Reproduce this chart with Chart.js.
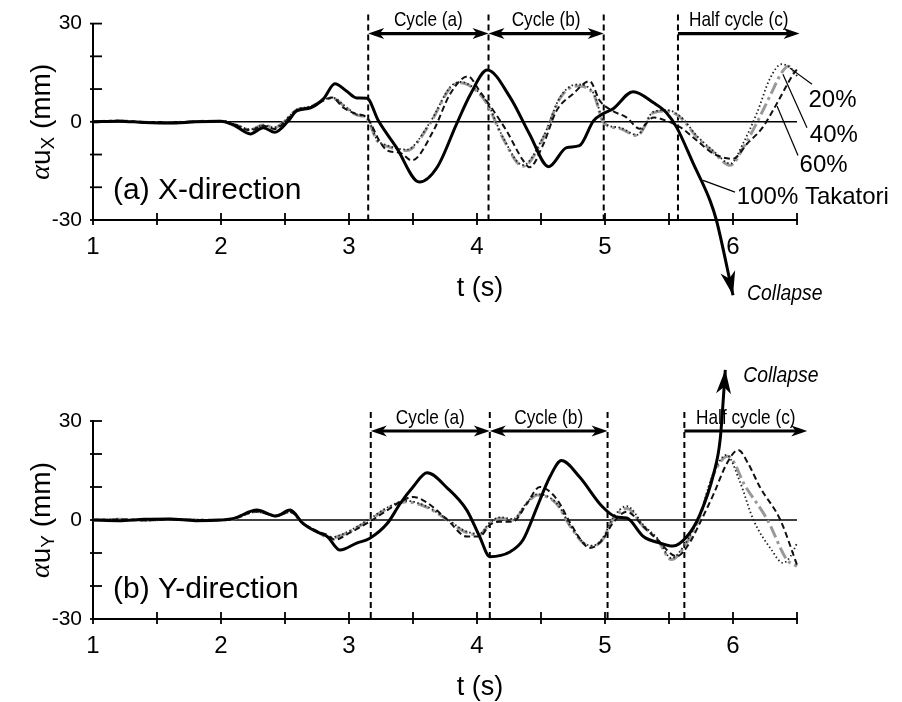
<!DOCTYPE html>
<html>
<head>
<meta charset="utf-8">
<script src="https://cdn.jsdelivr.net/npm/chart.js@4.4.0/dist/chart.umd.min.js"></script>
<style>
html, body { margin: 0; padding: 0; background: #fff; }
#wrap { position: relative; width: 902px; height: 702px; }
#cx { position: absolute; left: 0; top: 0; }
#cy { position: absolute; left: 0; top: 350px; }
</style>
</head>
<body>
<div id="wrap">
  <canvas id="cx" width="902" height="350"></canvas>
  <canvas id="cy" width="902" height="352"></canvas>
</div>
<script>
// ---- data: time t (s) and alpha*u (mm) ----
// (a) X-direction
const tX100 = [1.0,1.2,1.4,1.6,1.8,2.0,2.1,2.23,2.33,2.42,2.52,2.59,2.7,2.8,2.89,2.98,3.06,3.14,3.23,3.37,3.55,3.69,3.84,3.95,4.08,4.26,4.41,4.56,4.7,4.8,4.91,4.98,5.06,5.22,5.38,5.48,5.56,5.69,5.82,5.87,6.0];
const uX100 = [0,0.2,-0.2,-0.4,0,0.2,-1,-3.7,-1.8,-3.2,0,3.3,4.3,7,11.6,9.4,7.3,7.2,0.3,-7.8,-18.4,-13.8,-0.7,8.5,15.8,7.4,-3.7,-13.7,-7.9,-7.3,0.3,2.4,3.9,9.2,5.8,2.8,-1.7,-12.8,-24,-30,-53];
const tX60 = [1.0,1.2,1.4,1.6,1.8,2.0,2.1,2.23,2.33,2.42,2.5,2.59,2.7,2.8,2.87,2.95,3.05,3.14,3.24,3.3,3.4,3.49,3.66,3.79,3.93,4.02,4.13,4.23,4.36,4.41,4.52,4.62,4.75,4.88,4.96,5.06,5.17,5.27,5.38,5.48,5.59,5.72,5.85,6.0,6.11,6.23,6.34,6.47,6.5];
const uX60 = [0,0.3,-0.2,-0.3,0.1,0.2,-0.8,-2.6,-1.2,-2.2,0,3.5,4.5,6.5,7.4,4.5,2.5,1.3,-6,-8.8,-9.5,-11.8,-2.7,8.5,13.9,9.4,3.3,-2.7,-11.8,-13.9,-6.7,3.3,8.5,12.4,6.4,3.3,1.3,-2.1,1.3,0.3,-1.7,-5.8,-9.8,-11.3,-6.7,-1.8,5.4,14.5,16];
const tX40 = [1.0,1.2,1.4,1.6,1.8,2.0,2.1,2.23,2.33,2.42,2.5,2.59,2.7,2.8,2.87,2.98,3.06,3.14,3.22,3.3,3.45,3.63,3.79,3.87,3.97,4.08,4.2,4.36,4.52,4.65,4.78,4.91,4.98,5.02,5.12,5.25,5.38,5.48,5.59,5.72,5.85,5.98,6.08,6.19,6.29,6.38,6.43,6.5];
const uX40 = [0,0.3,-0.1,-0.3,0.1,0.2,-0.7,-2.4,-1,-1.8,0.3,3.6,4.6,6.6,7.2,4.2,2.1,1,-5.8,-7.5,-8.8,-0.7,10.3,11.9,10.3,5.4,-4.8,-13.6,-4.8,7.3,10.9,8.5,0.3,-1.2,-2.1,-4.2,2.8,3.3,1.3,-4.8,-9.4,-13.3,-7.9,0,8,15,17,14];
const tX20 = [1.0,1.2,1.4,1.6,1.8,2.0,2.1,2.23,2.33,2.42,2.5,2.59,2.7,2.8,2.87,2.98,3.06,3.14,3.22,3.3,3.45,3.63,3.79,3.87,3.97,4.08,4.2,4.36,4.52,4.65,4.78,4.91,4.98,5.02,5.12,5.25,5.38,5.48,5.59,5.72,5.85,5.98,6.08,6.19,6.29,6.38,6.45,6.5];
const uX20 = [0,0.2,-0.2,-0.3,0,0.3,-0.6,-2.3,-1.1,-1.7,0.4,3.7,4.7,6.7,7.4,4.4,2.2,1.2,-5.5,-7.2,-8.5,-0.4,10.6,12.2,10.5,5.8,-4.5,-13.2,-4.4,7.6,11.4,8.8,0.8,-1,-1.8,-4,3.1,3.6,1.6,-4.4,-9,-12.8,-6.5,3,13.3,17.6,16.5,14];

// (b) Y-direction
const tY100 = [1.0,1.2,1.4,1.6,1.8,2.0,2.1,2.28,2.43,2.54,2.64,2.75,2.83,2.93,3.06,3.16,3.3,3.4,3.5,3.61,3.77,3.92,4.02,4.1,4.26,4.36,4.47,4.57,4.66,4.8,4.98,5.09,5.17,5.3,5.43,5.53,5.64,5.74,5.85,5.9,5.94];
const uY100 = [0,-0.2,0.2,0.3,-0.2,0,0.5,3,1.2,3,-1,-3.6,-5,-9.1,-7,-5.6,-1,5,10,14.3,9.6,3,-5,-11.1,-9.6,-6,4,13.1,18,13.1,4,0.9,0.6,-5,-7,-7.9,-5,1.5,14.2,24.5,45.5];
const tY60 = [1.0,1.2,1.4,1.6,1.8,2.0,2.1,2.28,2.43,2.54,2.64,2.75,2.83,2.89,3.0,3.16,3.3,3.4,3.5,3.6,3.77,3.92,4.02,4.1,4.18,4.28,4.39,4.49,4.62,4.73,4.83,4.88,4.98,5.06,5.17,5.3,5.41,5.56,5.66,5.74,5.85,5.95,6.04,6.12,6.21,6.37,6.5];
const uY60 = [0,0.2,-0.1,0.2,0,0,0.5,2.6,1.2,2.5,-1,-3.4,-4.5,-6,-4,-0.5,3,5.5,7,5.5,0,-5,-5,-1.5,-0.5,-0.5,5,10,6.5,-1,-7,-8.5,-6,-1,2.5,-2,-6,-11,-7,-1,8,17,21.2,17,10,0,-13.6];
const tY40 = [1.0,1.2,1.4,1.6,1.8,2.0,2.1,2.28,2.43,2.54,2.64,2.75,2.85,2.95,3.16,3.3,3.45,3.6,3.77,3.9,4.02,4.1,4.18,4.28,4.39,4.47,4.62,4.73,4.83,4.9,4.98,5.06,5.17,5.3,5.41,5.52,5.62,5.74,5.85,5.96,6.1,6.27,6.42,6.5];
const uY40 = [0,0.2,-0.1,0.2,0,0,0.4,2.6,1.3,2.5,-1,-3.5,-5.5,-4.5,0,3.5,5.5,4,0,-3.5,-4.5,-1,0.5,0,5,7.6,5,-2,-7,-8,-6,0,3.5,-2,-6,-12,-8,1,14,19.3,10,0,-12,-14];
const tY20 = [1.0,1.2,1.4,1.6,1.8,2.0,2.1,2.28,2.43,2.54,2.64,2.75,2.85,2.95,3.16,3.3,3.45,3.6,3.77,3.9,4.02,4.1,4.18,4.28,4.39,4.47,4.62,4.73,4.83,4.9,4.98,5.06,5.17,5.3,5.41,5.52,5.62,5.74,5.85,5.95,6.05,6.16,6.3,6.39,6.45,6.5];
const uY20 = [0,0.1,-0.1,0.2,0.1,0,0.4,2.5,1.3,2.4,-1,-3.4,-5.3,-4.3,0.3,3.8,5.8,4.2,0.2,-3.2,-4.2,-0.8,0.8,0.3,5.3,7.8,5.2,-1.8,-6.8,-7.8,-5.6,0.5,4.2,-1.5,-5.6,-11.6,-7.6,1.5,14.5,19.7,12,0,-9,-13,-11,-7];

// cycle boundaries (s)
const cycleX = [3.15, 4.09, 4.99, 5.57];
const cycleY = [3.17, 4.10, 5.02, 5.62];
const cycleNames = ['Cycle (a)', 'Cycle (b)', 'Half cycle (c)'];

// tick labels
const xTickLabels = [1, 2, 3, 4, 5, 6];
const yTickLabels = [-30, 0, 30];

const SANS = '"Liberation Sans", Arial, sans-serif';

function pts(t, u) { return t.map((v, i) => ({x: v, y: u[i]})); }

function series(t20, u20, t40, u40, t60, u60, t100, u100) {
    return [{
        label: '100% Takatori', data: pts(t100, u100), borderColor: '#000', borderWidth: 3, order: 1
    }, {
        label: '60%', data: pts(t60, u60), borderColor: '#111', borderWidth: 2, borderDash: [6, 3.5], order: 2
    }, {
        label: '20%', data: pts(t20, u20), borderColor: '#222', borderWidth: 1.8, borderDash: [1.5, 2.5], order: 3
    }, {
        label: '40%', data: pts(t40, u40), borderColor: '#999', borderWidth: 3, borderDash: [12, 4, 3, 4], order: 4
    }];
}

function narrow(ctx, str, x, y, font, sx, align) {
    ctx.save();
    ctx.font = font;
    const w = ctx.measureText(str).width * sx;
    const x0 = align === 'center' ? x - w / 2 : (align === 'right' ? x - w : x);
    ctx.translate(x0, y);
    ctx.scale(sx, 1);
    ctx.textAlign = 'left';
    ctx.textBaseline = 'middle';
    ctx.fillText(str, 0, 0);
    ctx.restore();
}

function head(ctx, x, y, ang, len, half) {
    ctx.save();
    ctx.translate(x, y);
    ctx.rotate(ang);
    ctx.beginPath();
    ctx.moveTo(0, 0);
    ctx.lineTo(-len, -half);
    ctx.lineTo(-len * 0.72, 0);
    ctx.lineTo(-len, half);
    ctx.closePath();
    ctx.fill();
    ctx.restore();
}

function panel(p) {
    return {
        id: 'panel',
        beforeDatasetsDraw(chart) {
            const {ctx, chartArea: a, scales: {x, y}} = chart;
            ctx.save();
            ctx.strokeStyle = '#000';
            ctx.lineWidth = 1.6;
            const y0 = y.getPixelForValue(0);
            ctx.beginPath(); ctx.moveTo(a.left, y0); ctx.lineTo(a.right, y0); ctx.stroke();
            ctx.lineWidth = 2;
            ctx.setLineDash([6, 4]);
            p.cycles.forEach(t => {
                const px = x.getPixelForValue(t);
                ctx.beginPath(); ctx.moveTo(px, a.top - 9); ctx.lineTo(px, a.bottom); ctx.stroke();
            });
            ctx.restore();
        },
        afterDraw(chart) {
            const {ctx, chartArea: a, scales: {x, y}} = chart;
            ctx.save();
            ctx.strokeStyle = '#000';
            ctx.fillStyle = '#000';
            ctx.lineWidth = 1.8;
            // ticks crossing the axes
            x.ticks.forEach(t => {
                const px = x.getPixelForValue(t.value);
                ctx.beginPath(); ctx.moveTo(px, a.bottom - 7); ctx.lineTo(px, a.bottom + 5); ctx.stroke();
            });
            y.ticks.forEach(t => {
                const py = y.getPixelForValue(t.value);
                ctx.beginPath(); ctx.moveTo(a.left - 3, py); ctx.lineTo(a.left + 9, py); ctx.stroke();
            });
            // x tick labels
            ctx.font = '24px ' + SANS;
            ctx.textAlign = 'center';
            ctx.textBaseline = 'middle';
            xTickLabels.forEach(v => ctx.fillText(String(v), x.getPixelForValue(v), a.bottom + 27));
            // axis titles
            ctx.font = '27px ' + SANS;
            ctx.fillText('t (s)', a.left + 387, a.bottom + 69);

            const y0 = y.getPixelForValue(0);
            ctx.save();
            ctx.translate(42, y0);
            ctx.rotate(-Math.PI / 2);
            const parts = [
                ['\u03b1', 'italic 28px "Liberation Serif", serif', 0],
                ['u', '28px ' + SANS, 0],
                [p.sub, '19px ' + SANS, 7],
                [' (mm)', '28px ' + SANS, 0]
            ];
            let tw = 0;
            parts.forEach(q => { ctx.font = q[1]; tw += ctx.measureText(q[0]).width; });
            let cx = -tw / 2;
            ctx.textAlign = 'left';
            parts.forEach(q => {
                ctx.font = q[1];
                ctx.fillText(q[0], cx, q[2]);
                cx += ctx.measureText(q[0]).width;
            });
            ctx.restore();

            // panel name
            ctx.font = '30px ' + SANS;
            ctx.textAlign = 'left';
            ctx.fillText(p.name, a.left + 20, a.bottom - 29);

            // cycle arrows
            const ay = a.top + 10;
            const c = p.cycles.map(t => x.getPixelForValue(t));
            const cend = x.getPixelForValue(p.halfEnd);
            const spans = [[c[0], c[1], true], [c[1], c[2], true], [c[3], cend, false]];
            ctx.lineWidth = 3.2;
            spans.forEach((s, i) => {
                ctx.beginPath(); ctx.moveTo(s[0] + (s[2] ? 6 : 0), ay); ctx.lineTo(s[1] - 6, ay); ctx.stroke();
                head(ctx, s[1], ay, 0, 16, 5.5);
                if (s[2]) head(ctx, s[0], ay, Math.PI, 16, 5.5);
                narrow(ctx, cycleNames[i], (s[0] + s[1]) / 2, a.top - 3, '21px ' + SANS, 0.82, 'center');
            });

            // collapse arrow
            const el = chart.getDatasetMeta(0).data;
            const e1 = el[el.length - 1], e0 = el[el.length - 2];
            head(ctx, e1.x, e1.y, Math.atan2(e1.y - e0.y, e1.x - e0.x), 24, 7.5);
            narrow(ctx, 'Collapse', x.getPixelForValue(p.collapse[0]), y.getPixelForValue(p.collapse[1]),
                'italic 22px ' + SANS, 0.88, 'left');

            // series labels with leader lines
            ctx.lineWidth = 1.2;
            ctx.font = '24px ' + SANS;
            ctx.textAlign = 'left';
            (p.tags || []).forEach(g => {
                ctx.beginPath();
                ctx.moveTo(x.getPixelForValue(g.from[0]), y.getPixelForValue(g.from[1]));
                ctx.lineTo(x.getPixelForValue(g.to[0]), y.getPixelForValue(g.to[1]));
                ctx.stroke();
                ctx.fillText(g.text, x.getPixelForValue(g.at[0]), y.getPixelForValue(g.at[1]));
            });
            ctx.restore();
        }
    };
}

function makeChart(id, h, top, bottom, datasets, p) {
    return new Chart(document.getElementById(id), {
        type: 'line',
        data: {datasets: datasets},
        options: {
            responsive: false,
            animation: false,
            layout: {padding: {left: 0, right: 105, top: top, bottom: 0}},
            elements: {
                point: {radius: 0},
                line: {cubicInterpolationMode: 'monotone', fill: false}
            },
            datasets: {line: {clip: false}},
            plugins: {legend: {display: false}, tooltip: {enabled: false}},
            scales: {
                x: {
                    type: 'linear', min: 1, max: 6.5,
                    grid: {display: false, drawTicks: false},
                    border: {display: true, color: '#000', width: 2},
                    ticks: {display: false, stepSize: 0.5},
                    afterFit(s) { s.height = h - bottom; }
                },
                y: {
                    min: -30, max: 30,
                    grid: {display: false, drawTicks: false},
                    border: {display: true, color: '#000', width: 2},
                    ticks: {
                        stepSize: 10, padding: 11, color: '#000',
                        font: {family: SANS, size: 21},
                        callback: v => yTickLabels.includes(v) ? String(v) : ''
                    },
                    afterFit(s) { s.width = 93; }
                }
            }
        },
        plugins: [panel(p)]
    });
}

makeChart('cx', 350, 22, 220, series(tX20, uX20, tX40, uX40, tX60, uX60, tX100, uX100), {
    name: '(a) X-direction', sub: 'X', cycles: cycleX, halfEnd: 6.52, collapse: [6.11, -52.7],
    tags: [
        {text: '20%', from: [6.445, 16.4], to: [6.617, 11.5], at: [6.59, 6.4]},
        {text: '40%', from: [6.39, 14.5], to: [6.578, -1.8], at: [6.60, -4.2]},
        {text: '60%', from: [6.344, 4.8], to: [6.508, -10.3], at: [6.52, -13.3]},
        {text: '100% Takatori', from: [5.766, -17.9], to: [6.016, -21.5], at: [6.03, -23]}
    ]
});

makeChart('cy', 352, 71, 269, series(tY20, uY20, tY40, uY40, tY60, uY60, tY100, uY100), {
    name: '(b) Y-direction', sub: 'Y', cycles: cycleY, halfEnd: 6.58, collapse: [6.08, 43.6]
});
</script>
</body>
</html>
